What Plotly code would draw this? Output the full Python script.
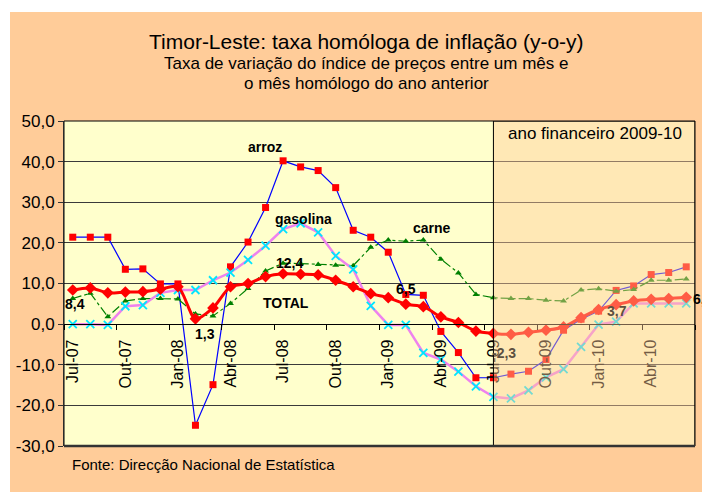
import plotly.graph_objects as go

months = ["Jul-07", "Ago-07", "Set-07", "Out-07", "Nov-07", "Dez-07",
          "Jan-08", "Fev-08", "Mar-08", "Abr-08", "Mai-08", "Jun-08",
          "Jul-08", "Ago-08", "Set-08", "Out-08", "Nov-08", "Dez-08",
          "Jan-09", "Fev-09", "Mar-09", "Abr-09", "Mai-09", "Jun-09",
          "Jul-09", "Ago-09", "Set-09", "Out-09", "Nov-09", "Dez-09",
          "Jan-10", "Fev-10", "Mar-10", "Abr-10", "Mai-10", "Jun-10"]

arroz = [21.4, 21.4, 21.4, 13.5, 13.6, 9.9, 9.9, -24.9, -14.9, 14.1, 20.2, 28.7,
         40.2, 38.7, 37.8, 33.6, 23.1, 21.4, 17.7, 7.3, 7.1, -1.8, -7.0, -13.2,
         -13.2, -12.3, -11.6, -8.7, -1.5, 1.2, 3.2, 8.3, 9.4, 12.2, 12.7, 14.1]

gasolina = [0.0, 0.0, -0.2, 4.4, 4.7, 7.7, 8.4, 8.4, 10.8, 12.7, 15.8, 19.3,
            23.4, 24.8, 22.6, 16.8, 13.5, 4.5, -0.2, -0.2, -7.1, -8.7, -11.7, -15.3,
            -17.9, -18.3, -16.3, -13.1, -11.1, -5.6, -0.1, 0.6, 5.1, 5.1, 5.1, 5.1]

carne = [6.3, 7.6, 1.8, 5.7, 6.3, 6.3, 6.2, 2.5, 2.0, 5.1, 8.8, 13.1,
         15.0, 14.9, 14.7, 14.5, 14.4, 18.9, 20.7, 20.4, 20.7, 16.0, 12.6, 7.3,
         6.5, 6.3, 6.3, 5.9, 5.7, 8.4, 8.7, 8.1, 8.5, 10.8, 10.8, 11.1]

total = [8.4, 8.9, 7.7, 7.9, 8.0, 8.6, 9.2, 1.3, 4.0, 9.2, 10.0, 11.7,
         12.4, 12.3, 12.1, 10.8, 9.2, 7.5, 6.5, 4.9, 4.3, 1.8, 0.4, -1.7,
         -2.3, -2.5, -2.0, -1.5, -0.7, 1.6, 3.6, 4.8, 5.7, 6.1, 6.3, 6.6]

y_ticks = [-30, -20, -10, 0, 10, 20, 30, 40, 50]
y_ticktext = ["-30,0", "-20,0", "-10,0", "0,0", "10,0", "20,0", "30,0", "40,0", "50,0"]

# value labels on the TOTAL series: (index, text)
total_labels = [(0, "8,4"), (7, "1,3"), (12, "12,4"), (18, "6,5"),
                (24, "-2,3"), (30, "3,7"), (35, "6,0")]

fiscal_start = 24  # Jul-09

x = list(range(len(months)))
FONT = "Arial, Liberation Sans, sans-serif"

fig = go.Figure()
fig.add_trace(go.Scatter(x=x, y=arroz, mode="lines+markers", name="arroz",
                         line=dict(color="#0000FF", width=1.2),
                         marker=dict(symbol="square", size=7, color="#FF0000")))
fig.add_trace(go.Scatter(x=x, y=carne, mode="lines+markers", name="carne",
                         line=dict(color="#008000", width=1.2, dash="dashdot"),
                         marker=dict(symbol="triangle-up", size=6, color="#008000")))
fig.add_trace(go.Scatter(x=x, y=gasolina, mode="lines+markers", name="gasolina",
                         line=dict(color="#EE82EE", width=2.5),
                         marker=dict(symbol="x-thin", size=8,
                                     line=dict(color="#00E5FF", width=1.8))))
fig.add_trace(go.Scatter(x=x, y=total, mode="lines+markers", name="TOTAL",
                         line=dict(color="#FF0000", width=3, shape="spline", smoothing=0.8),
                         marker=dict(symbol="diamond", size=9, color="#FF0000")))

# page offset (browser body margin) and plot-area geometry in reference pixels
OFF = 8
FW, FH = 710 - OFF, 492 - OFF
L, R, T, B = 64, 695, 121, 446
W, H = R - L, B - T
def px(xp):
    return (xp - L) / W
def py(yp):
    return (B - yp) / H

shapes = [
    dict(type="rect", xref="paper", yref="paper", x0=px(10), x1=px(712), y0=py(494), y1=py(12),
         fillcolor="#FFCC99", line=dict(width=0), layer="below"),
    dict(type="rect", xref="paper", yref="paper", x0=0, x1=1, y0=0, y1=1,
         fillcolor="#FFFFCC", line=dict(width=0), layer="below"),
    dict(type="rect", xref="x", yref="y", x0=fiscal_start, x1=35.5, y0=-30, y1=50,
         fillcolor="rgba(255,204,153,0.45)", line=dict(color="black", width=1), layer="above"),
    dict(type="rect", xref="paper", yref="paper", x0=0, x1=1, y0=0, y1=1,
         line=dict(color="black", width=1), layer="above"),
    dict(type="line", xref="paper", yref="paper", x0=0, x1=1, y0=0, y1=0,
         line=dict(color="#333333", width=2.5), layer="above"),
]

def paper_text(txt, xp, yp, size, xanchor="center"):
    return dict(text=txt, x=px(xp), y=py(yp), xref="paper", yref="paper",
                xanchor=xanchor, yanchor="middle", showarrow=False,
                font=dict(size=size, color="black", family=FONT))

annotations = [
    paper_text("Timor-Leste: taxa homóloga de inflação (y-o-y)", 366, 41, 21),
    paper_text("Taxa de variação do índice de preços entre um mês e", 366, 63, 17),
    paper_text("o mês homólogo do ano anterior", 366, 83, 17),
    paper_text("Fonte: Direcção Nacional de Estatística", 70, 464, 15, xanchor="left"),
    paper_text("ano financeiro 2009-10", 595, 133, 17),
]

# series names
name_pos = [("arroz", 10.95, 43.5), ("gasolina", 13.15, 25.8),
            ("carne", 20.5, 23.6), ("TOTAL", 12.15, 5.2)]
for txt, xx, yy in name_pos:
    annotations.append(dict(text=f"<b>{txt}</b>", x=xx, y=yy, xref="x", yref="y",
                            xanchor="center", yanchor="middle", showarrow=False,
                            font=dict(size=14, color="black", family=FONT)))

label_shift = {0: (2, -14), 7: (10, -15), 12: (6, 11), 18: (18, 9),
               24: (11, -20), 30: (18, -1), 35: (5, -2)}
for idx, txt in total_labels:
    dx, dy = label_shift[idx]
    dim = fiscal_start <= idx < 35
    ann = dict(text=f"<b>{txt}</b>", x=idx, y=total[idx], xref="x", yref="y", showarrow=False,
               xshift=dx, yshift=dy, xanchor="center", yanchor="middle",
               font=dict(size=14, color="#5c5040" if dim else "black", family=FONT))
    if idx == 35:
        ann["xanchor"] = "left"
    annotations.append(ann)

fig.update_layout(
    width=FW, height=FH,
    margin=dict(l=L - OFF, r=FW - (R - OFF), t=T - OFF, b=FH - (B - OFF), autoexpand=False),
    paper_bgcolor="white", plot_bgcolor="rgba(0,0,0,0)",
    showlegend=False,
    font=dict(family=FONT, color="black"),
    shapes=shapes, annotations=annotations,
    xaxis=dict(range=[-0.5, 35.5], tickmode="array", tickvals=x[::3], ticktext=months[::3],
               tickangle=-90, ticks="", showgrid=False, zeroline=False,
               showline=True, linecolor="black", linewidth=1,
               anchor="free", position=30 / 80, ticklabelstandoff=8,
               tickfont=dict(size=16, color="black", family=FONT),
               minor=dict(tickmode="linear", tick0=-0.5, dtick=3, ticks="outside",
                          ticklen=5, tickcolor="black", tickwidth=1, showgrid=False)),
    yaxis=dict(range=[-30, 50], tickmode="array", tickvals=y_ticks, ticktext=y_ticktext,
               showgrid=True, gridcolor="#3a3a3a", gridwidth=1, zeroline=False,
               showline=True, linecolor="#555555", linewidth=1,
               ticks="outside", ticklen=5, tickcolor="#333333",
               tickfont=dict(size=17, color="black", family=FONT)),
)

fig.write_html("out.html")
